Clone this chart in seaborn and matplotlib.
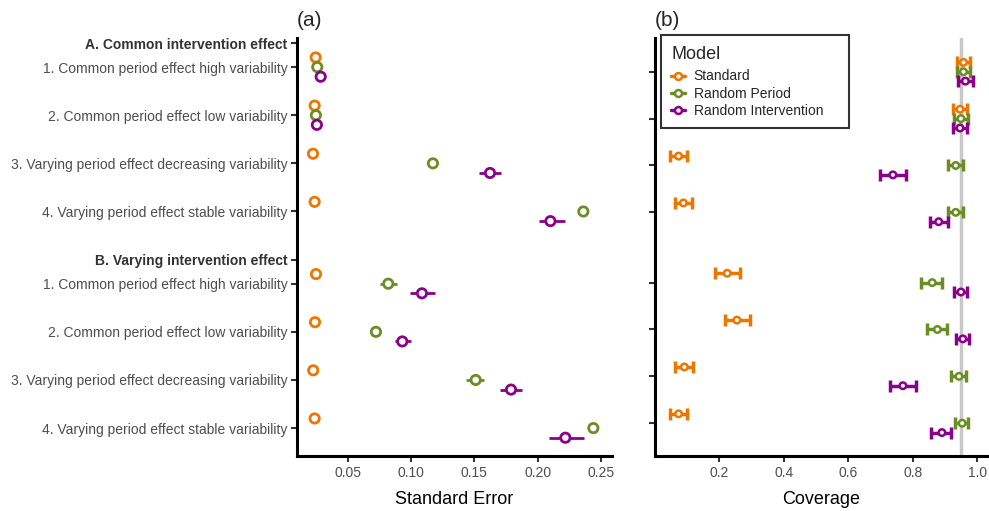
import numpy as np
import pandas as pd
import matplotlib
matplotlib.use('Agg')
import matplotlib.pyplot as plt
import seaborn as sns
from matplotlib.lines import Line2D

# Scenario labels (rows) and group headers
group_labels = ['A. Common intervention effect', 'B. Varying intervention effect']
scenario_labels = ['1. Common period effect high variability',
                   '2. Common period effect low variability',
                   '3. Varying period effect decreasing variability',
                   '4. Varying period effect stable variability'] * 2
models = ['Standard', 'Random Period', 'Random Intervention']
colors = ['#EE7600', '#6B8E23', '#8B008B']

# Standard error (point, lower, upper)
se_std = [0.0247, 0.0239, 0.0226, 0.0239, 0.0250, 0.0242, 0.0228, 0.0239]
se_std_lo = [0.0247, 0.0239, 0.0226, 0.0239, 0.0250, 0.0242, 0.0228, 0.0239]
se_std_hi = [0.0247, 0.0239, 0.0226, 0.0239, 0.0250, 0.0242, 0.0228, 0.0239]
se_rp = [0.0260, 0.0249, 0.1173, 0.2360, 0.0820, 0.0723, 0.1510, 0.2439]
se_rp_lo = [0.0260, 0.0249, 0.1173, 0.2360, 0.0755, 0.0690, 0.1434, 0.2439]
se_rp_hi = [0.0260, 0.0249, 0.1173, 0.2360, 0.0891, 0.0763, 0.1578, 0.2439]
se_ri = [0.0287, 0.0257, 0.1623, 0.2100, 0.1086, 0.0931, 0.1789, 0.2218]
se_ri_lo = [0.0287, 0.0257, 0.1539, 0.2012, 0.0992, 0.0873, 0.1703, 0.2091]
se_ri_hi = [0.0287, 0.0257, 0.1710, 0.2213, 0.1191, 0.1001, 0.1878, 0.2365]

# Coverage (point, lower, upper)
cov_std = [0.957, 0.946, 0.073, 0.088, 0.224, 0.254, 0.091, 0.073]
cov_std_lo = [0.936, 0.924, 0.048, 0.063, 0.186, 0.216, 0.063, 0.048]
cov_std_hi = [0.977, 0.967, 0.098, 0.116, 0.264, 0.295, 0.119, 0.098]
cov_rp = [0.957, 0.949, 0.933, 0.933, 0.860, 0.876, 0.943, 0.953]
cov_rp_lo = [0.936, 0.927, 0.908, 0.908, 0.826, 0.845, 0.919, 0.932]
cov_rp_hi = [0.977, 0.972, 0.957, 0.957, 0.891, 0.907, 0.966, 0.972]
cov_ri = [0.963, 0.946, 0.738, 0.880, 0.949, 0.955, 0.769, 0.890]
cov_ri_lo = [0.941, 0.924, 0.697, 0.852, 0.927, 0.935, 0.728, 0.857]
cov_ri_hi = [0.985, 0.967, 0.780, 0.910, 0.969, 0.975, 0.809, 0.919]

# Row positions: header rows plus scenario rows
header_pos = [0.0, 4.5]
scenario_pos = [0.5, 1.5, 2.5, 3.5, 5.0, 6.0, 7.0, 8.0]
dodge = {'Standard': -0.2, 'Random Period': 0.0, 'Random Intervention': 0.2}

def make_frame(vals, los, his):
    recs = []
    for m, v, lo, hi in zip(models, vals, los, his):
        for i in range(len(scenario_pos)):
            recs.append({'Model': m, 'pos': scenario_pos[i] + dodge[m],
                         'value': v[i], 'lo': lo[i], 'hi': hi[i]})
    return pd.DataFrame(recs)

se_df = make_frame([se_std, se_rp, se_ri], [se_std_lo, se_rp_lo, se_ri_lo],
                   [se_std_hi, se_rp_hi, se_ri_hi])
cov_df = make_frame([cov_std, cov_rp, cov_ri], [cov_std_lo, cov_rp_lo, cov_ri_lo],
                    [cov_std_hi, cov_rp_hi, cov_ri_hi])

sns.set_style('white')
plt.rcParams['font.family'] = ['Liberation Sans', 'DejaVu Sans']

fig = plt.figure(figsize=(9.89, 5.11), dpi=100)
ax1 = fig.add_axes([0.3003, 0.1076, 0.3185, 0.818])
ax2 = fig.add_axes([0.6623, 0.1076, 0.3357, 0.818])
palette = dict(zip(models, colors))

# Left panel: standard error, plain whisker lines
for m in models:
    d = se_df[se_df['Model'] == m]
    ax1.hlines(d['pos'], d['lo'], d['hi'], color=palette[m], lw=2, zorder=2)
sns.scatterplot(data=se_df, x='value', y='pos', hue='Model', palette=palette,
                s=45, linewidth=2, ax=ax1, legend=False, zorder=3)

# Right panel: coverage with capped error bars
ax2.axvline(0.95, color='#C8C8C8', lw=2.5, zorder=1)
for m in models:
    d = cov_df[cov_df['Model'] == m]
    ax2.errorbar(d['value'], d['pos'], xerr=[d['value'] - d['lo'], d['hi'] - d['value']],
                 fmt='none', ecolor=palette[m], elinewidth=2.5, capsize=4.5,
                 capthick=2.5, zorder=2)
sns.scatterplot(data=cov_df, x='value', y='pos', hue='Model', palette=palette,
                s=22, linewidth=1.8, ax=ax2, legend=False, zorder=3)

# hollow markers
for ax in (ax1, ax2):
    for coll in ax.collections:
        if coll.get_offsets().shape[0] == len(se_df):
            coll.set_edgecolors(coll.get_facecolors())
            coll.set_facecolor('white')

# Axes styling
for ax in (ax1, ax2):
    sns.despine(ax=ax)
    ax.spines['left'].set_linewidth(2.2)
    ax.spines['bottom'].set_linewidth(2.2)
    ax.spines['left'].set_color('black')
    ax.spines['bottom'].set_color('black')
    ax.tick_params(axis='both', length=4, width=1.5, color='#333333',
                   labelcolor='#4D4D4D', labelsize=10, pad=3, left=True, bottom=True)
    ax.grid(False)

ax1.set_ylim(8.58, -0.104)
ax2.set_ylim(8.70, -0.22)

ticks = header_pos[:1] + scenario_pos[:4] + header_pos[1:] + scenario_pos[4:]
labels = group_labels[:1] + scenario_labels[:4] + group_labels[1:] + scenario_labels[4:]
ax1.set_yticks(ticks)
ax1.set_yticklabels(labels)
for lab in ax1.get_yticklabels():
    if lab.get_text() in group_labels:
        lab.set_fontweight('bold')
        lab.set_color('#333333')
ax2.set_yticks(scenario_pos)
ax2.set_yticklabels([])

ax1.set_xlim(0.01, 0.2586)
ax1.set_xticks([0.05, 0.10, 0.15, 0.20, 0.25])
ax1.set_xticklabels(['0.05', '0.10', '0.15', '0.20', '0.25'])
ax2.set_xlim(0.0, 1.03)
ax2.set_xticks([0.2, 0.4, 0.6, 0.8, 1.0])
ax2.set_xticklabels(['0.2', '0.4', '0.6', '0.8', '1.0'])

ax1.set_xlabel('Standard Error', fontsize=13, color='black', labelpad=8)
ax2.set_xlabel('Coverage', fontsize=13, color='black', labelpad=8)
ax1.set_ylabel('')
ax2.set_ylabel('')
ax1.set_title('(a)', loc='left', fontsize=15, pad=9)
ax2.set_title('(b)', loc='left', fontsize=15, pad=9)

handles = [Line2D([], [], color=c, lw=2.5, marker='o', markersize=5,
                  markerfacecolor='white', markeredgewidth=1.8) for c in colors]
leg = ax2.legend(handles, models, title='Model', loc='upper left',
                 bbox_to_anchor=(0.018, 0.0, 0.566, 1.007), mode='expand',
                 borderaxespad=0, fancybox=False,
                 frameon=True, fontsize=10, title_fontsize=13, handlelength=1.0,
                 handletextpad=0.6, labelspacing=0.22, borderpad=0.75,
                 alignment='left')
leg._legend_box.sep = 5.0
leg.get_frame().set_edgecolor('black')
leg.get_frame().set_linewidth(1.5)

fig.savefig('out.png', dpi=100)
